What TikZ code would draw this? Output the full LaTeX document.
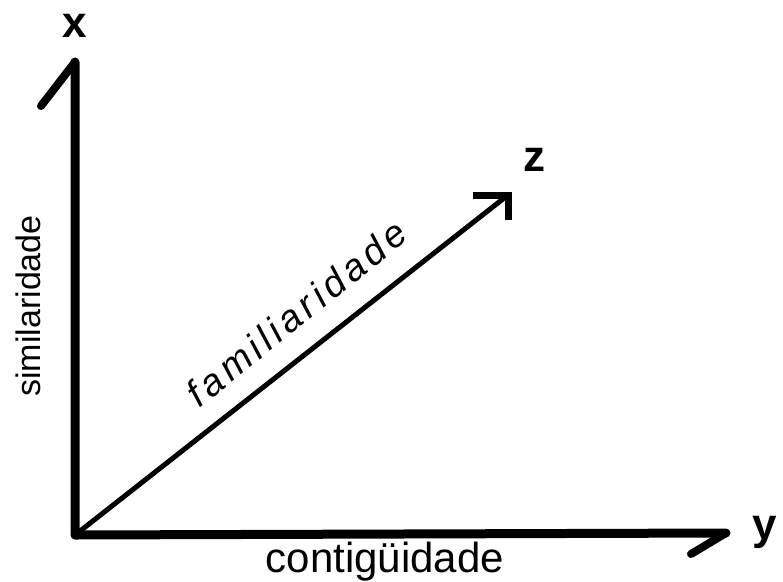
\documentclass[tikz,border=0pt]{standalone}
\usepackage{fontspec}
\setmainfont{Liberation Sans}
\begin{document}
\begin{tikzpicture}[x=1pt,y=-1pt,
  axis/.style={line width=9pt,line cap=round,line join=round},
  zaxis/.style={line width=5pt,line cap=round},
  barb/.style={line width=8pt,line cap=round},
  zbarb/.style={line width=7pt,line cap=rect},
  lbl/.style={inner sep=0pt,font=\fontsize{44}{44}\selectfont\bfseries},
  axtext/.style={inner sep=0pt}]
\useasboundingbox (0,0) rectangle (783,581);
\coordinate (O) at (75,535);
\coordinate (X) at (75,62);
\coordinate (Xb) at (41,106);
\coordinate (Y) at (726,533);
\coordinate (Yb) at (691,554);
\coordinate (Z) at (508,195);
\coordinate (Zh) at (476,195);
\coordinate (Zv) at (508,216);
\draw[axis] (X) -- (O) -- (Y);
\draw[barb] (X) -- (Xb);
\draw[barb] (Y) -- (Yb);
\draw[zaxis] (O) -- (Z);
\draw[zbarb] (Zh) -- (Z) -- (Zv);
\node[lbl] (lx) at (75,26) {x};
\node[lbl] (lz) at (534,160) {z};
\node[lbl,anchor=west] (ly) at (752,532) {y};
\node[axtext,font=\fontsize{42}{42}\selectfont] (tc) at (385,562) {contigüidade};
\node[axtext,rotate=90,font=\fontsize{34}{34}\selectfont] (ts) at (28,306) {similaridade};
\node[axtext,rotate=39,font=\fontsize{38}{38}\selectfont\itshape\addfontfeature{LetterSpace=12}] (tf) at (296,313) {familiaridade};
\end{tikzpicture}
\end{document}
